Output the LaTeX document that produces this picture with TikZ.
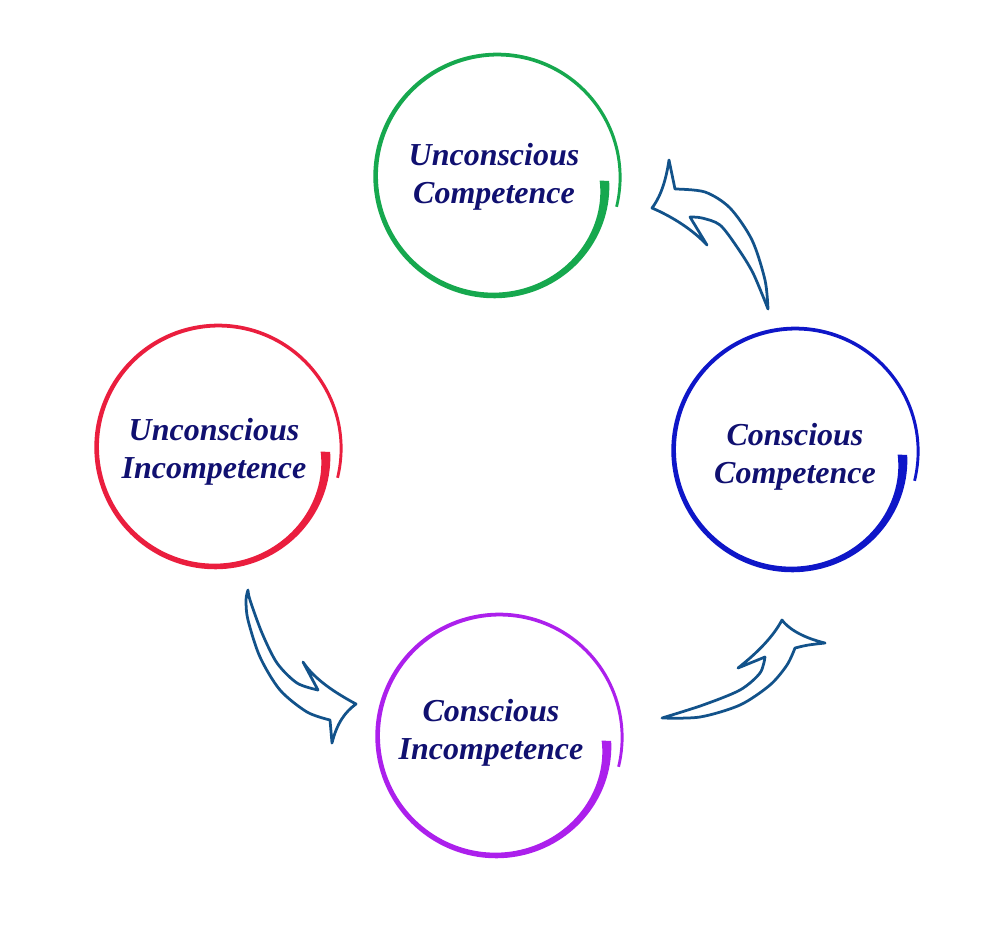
\documentclass[tikz,border=0pt]{standalone}
\usepackage{fontspec}
\setmainfont{Liberation Serif}
\usetikzlibrary{positioning}

\definecolor{ucgreen}{RGB}{22,168,78}
\definecolor{uired}{RGB}{234,30,62}
\definecolor{ccblue}{RGB}{14,22,200}
\definecolor{cipurple}{RGB}{172,32,236}
\definecolor{stagetext}{RGB}{16,16,112}
\definecolor{arrowblue}{RGB}{18,82,138}

\begin{document}
\begin{tikzpicture}[x=0.2mm, y=-0.2mm,
        stage/.style={text=stagetext, align=center,
                      font=\bfseries\itshape\fontsize{18.2}{21.6}\selectfont},
        swoosh/.style={draw=arrowblue, line width=0.55mm, line join=round,
                       fill=white}]
      \useasboundingbox (0,0) rectangle (1000,933);

      % brush circles: thick start inside, thin end outside
      \foreach \cx/\cy/\col in {497/177/ucgreen, 218/448/uired,
                                795/451/ccblue, 499/737/cipurple}{
        \fill[\col] plot[domain=2:374, samples=160, variable=\t]
            ({\cx+(107+14*(1-exp(-\t/60))+0.006*\t
                 +0.5*(2.8+3.5*(374-\t)/374+3.5*exp(-\t/30)))*cos(\t)},
             {\cy+(107+14*(1-exp(-\t/60))+0.006*\t
                 +0.5*(2.8+3.5*(374-\t)/374+3.5*exp(-\t/30)))*sin(\t)})
          -- plot[domain=374:2, samples=160, variable=\t]
            ({\cx+(107+14*(1-exp(-\t/60))+0.006*\t
                 -0.5*(2.8+3.5*(374-\t)/374+3.5*exp(-\t/30)))*cos(\t)},
             {\cy+(107+14*(1-exp(-\t/60))+0.006*\t
                 -0.5*(2.8+3.5*(374-\t)/374+3.5*exp(-\t/30)))*sin(\t)})
          -- cycle;
      }

      \node[stage] (uc) at (494,177) {Unconscious\\Competence};
      \node[stage] (ui) at (214,452) {Unconscious\\Incompetence};
      \node[stage] (cc) at (795,457) {Conscious\\Competence};
      \node[stage] (ci) at (491,733) {Conscious\\Incompetence};

      % conscious competence -> unconscious competence
      \draw[swoosh] plot[smooth] coordinates {(768,309) (765,280) (752,240)
                    (730,208) (705,192) (675,189)}
          -- (669,160) .. controls (665,187) and (658,200) .. (652,208)
          .. controls (673,217) and (693,230) .. (707,245)
          -- (690,217)
          -- plot[smooth] coordinates {(690,217) (702,218) (720,225)
                    (737,247) (753,273) (768,309)} -- cycle;

      % unconscious incompetence -> conscious incompetence
      \draw[swoosh] plot[smooth] coordinates {(248,590) (246,600) (248,620)
                    (260,657) (280,690) (307,712) (330,720)}
          -- (332,743) .. controls (337,723) and (345,712) .. (356,704)
          .. controls (330,690) and (313,677) .. (303,662)
          -- (318,690)
          -- plot[smooth] coordinates {(318,690) (297,683) (277,663)
                    (262,633) (250,600) (248,590)} -- cycle;

      % conscious incompetence -> conscious competence
      \draw[swoosh] plot[smooth] coordinates {(662,718) (700,717) (740,705)
                    (770,685) (787,665) (795,648)}
          .. controls (807,645) .. (825,643)
          .. controls (800,637) and (787,627) .. (782,620)
          .. controls (773,637) and (757,653) .. (738,668)
          -- (765,657)
          -- plot[smooth] coordinates {(765,657) (760,673) (740,690)
                    (703,705) (662,718)} -- cycle;
    \end{tikzpicture}
\end{document}
